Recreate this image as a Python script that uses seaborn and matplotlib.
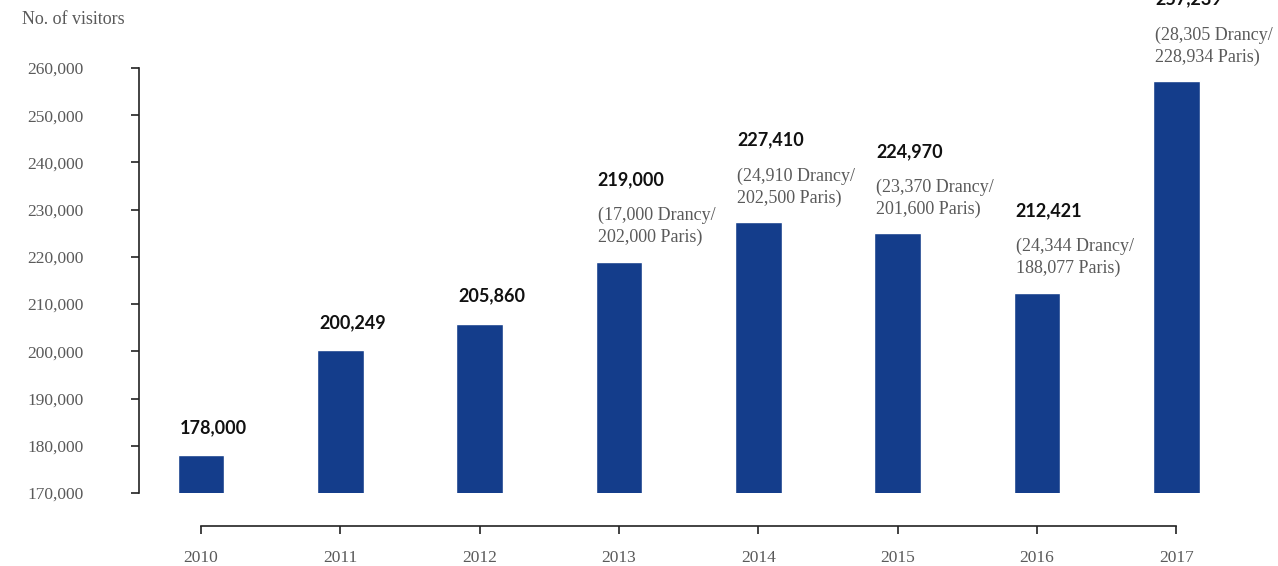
import pandas as pd
import seaborn as sns
import matplotlib.pyplot as plt

# visitor numbers per year
years = ['2010', '2011', '2012', '2013', '2014', '2015', '2016', '2017']
visitors = [178000, 200249, 205860, 219000, 227410, 224970, 212421, 257239]
drancy = [None, None, None, 17000, 24910, 23370, 24344, 28305]
paris = [None, None, None, 202000, 202500, 201600, 188077, 228934]
y_ticks = [170000, 180000, 190000, 200000, 210000, 220000, 230000, 240000, 250000, 260000]

data = pd.DataFrame({'year': years, 'visitors': visitors})

sns.set_style('white')
plt.rcParams['font.family'] = ['Liberation Serif', 'DejaVu Serif']

fig = plt.figure(figsize=(12.78, 5.66), dpi=100)
ax = fig.add_axes([139 / 1278, 73 / 566, 1139 / 1278, 493 / 566])

bar_w = 0.335
sns.barplot(x='year', y='visitors', data=data, order=years, color='#143D8B',
            saturation=1, width=bar_w, ax=ax)

ax.set_ylim(170000, 274400)
ax.set_xlim(-0.445, 7.73)
ax.set_yticks(y_ticks)
ax.set_yticklabels([f'{v:,}' for v in y_ticks])
ax.set_xlabel('')
ax.set_ylabel('')

grey = '#5a5a5a'
ax.tick_params(axis='y', length=6, width=1.2, pad=34, colors='#222222', labelcolor=grey, labelsize=12.5, left=True)
ax.tick_params(axis='x', length=6, width=1.2, pad=11, colors='#222222', labelcolor=grey, labelsize=12.5, bottom=True)

for s in ['top', 'right']:
    ax.spines[s].set_visible(False)
ax.spines['left'].set_bounds(170000, 260000)
ax.spines['left'].set_linewidth(1.2)
ax.spines['left'].set_color('#222222')
ax.spines['bottom'].set_position(('outward', 24))
ax.spines['bottom'].set_bounds(0, 7)
ax.spines['bottom'].set_linewidth(1.2)
ax.spines['bottom'].set_color('#222222')

# value labels, with Drancy / Paris breakdown where known
for i, v in enumerate(visitors):
    x0 = i - bar_w / 2 + 0.015
    if drancy[i] is None:
        off = 20
    else:
        off = 59
        ax.annotate(f'({drancy[i]:,} Drancy/\n{paris[i]:,} Paris)', xy=(x0, v), xytext=(0, 11),
                    textcoords='offset points', ha='left', va='bottom', fontsize=13,
                    color=grey, linespacing=1.35, annotation_clip=False)
    ax.annotate(f'{v:,}', xy=(x0, v), xytext=(0, off), textcoords='offset points',
                ha='left', va='center', fontsize=13, fontweight='bold',
                family=['Lato', 'DejaVu Sans'], color='#111111', annotation_clip=False)

fig.text(22 / 1278, 1 - 19 / 566, 'No. of visitors', ha='left', va='center', fontsize=13, color=grey)

fig.savefig('out.png', dpi=100)
